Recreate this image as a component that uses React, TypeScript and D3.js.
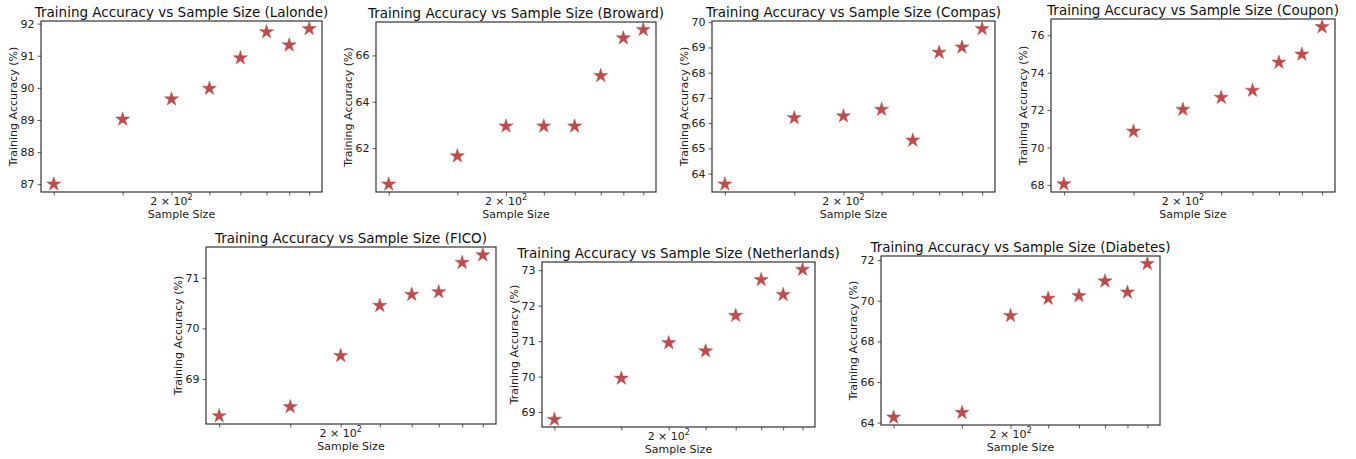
import React, { useRef, useEffect } from "react";
import * as d3 from "d3";

// sample sizes on the (log) x axis
const SAMPLE_SIZES = [100, 150, 200, 250, 300, 350, 400, 450];

const DATASETS = ["Lalonde", "Broward", "Compas", "Coupon", "FICO", "Netherlands", "Diabetes"];

// training accuracy (%)
const LALONDE = [87.0, 89.02, 89.65, 89.98, 90.93, 91.74, 91.33, 91.84];
const BROWARD = [60.43, 61.65, 62.94, 62.94, 62.94, 65.12, 66.75, 67.11];
const COMPAS = [63.58, 66.21, 66.28, 66.54, 65.32, 68.8, 69.01, 69.74];
const COUPON = [68.04, 70.86, 72.03, 72.67, 73.05, 74.55, 74.98, 76.45];
const FICO = [68.27, 68.45, 69.46, 70.45, 70.67, 70.72, 71.3, 71.45];
const NETHERLANDS = [68.79, 69.95, 70.95, 70.72, 71.72, 72.73, 72.31, 73.02];
const DIABETES = [64.26, 64.49, 69.26, 70.11, 70.24, 70.96, 70.41, 71.82];

const Y_TICKS = [
  [87, 88, 89, 90, 91, 92],
  [62, 64, 66],
  [64, 65, 66, 67, 68, 69, 70],
  [68, 70, 72, 74, 76],
  [69, 70, 71],
  [69, 70, 71, 72, 73],
  [64, 66, 68, 70, 72],
];

const X_LABELED_TICK = 200;

// axes frames (layout)
const FRAMES = [
  { x: 41, y: 21, w: 281, h: 171 },
  { x: 376, y: 22, w: 280, h: 170 },
  { x: 712, y: 21, w: 283, h: 171 },
  { x: 1051, y: 19, w: 284, h: 173 },
  { x: 206, y: 247, w: 290, h: 177 },
  { x: 542, y: 262, w: 273, h: 165 },
  { x: 881, y: 256, w: 279, h: 169 },
];

const WIDTH = 1356;
const HEIGHT = 459;
const FONT = "DejaVu Sans, sans-serif";
const STAR = "#bd4c4f";
const SPINE = "#333";

export default function App() {
  const svgRef = useRef<SVGSVGElement>(null);

  useEffect(() => {
    document.body.style.margin = "0";
    if (!svgRef.current) return;
    const svg = d3.select(svgRef.current);
    svg.selectAll("*").remove();

    const allSeries = [LALONDE, BROWARD, COMPAS, COUPON, FICO, NETHERLANDS, DIABETES];

    allSeries.forEach((values, i) => {
      const f = FRAMES[i];
      const g = svg.append("g").attr("transform", `translate(${f.x},${f.y})`);

      // matplotlib-like 5% margins
      const lx0 = Math.log10(d3.min(SAMPLE_SIZES)!);
      const lx1 = Math.log10(d3.max(SAMPLE_SIZES)!);
      const mx = (lx1 - lx0) * 0.05;
      const xScale = d3
        .scaleLog()
        .domain([Math.pow(10, lx0 - mx), Math.pow(10, lx1 + mx)])
        .range([0, f.w]);

      const [y0, y1] = d3.extent(values) as [number, number];
      const my = (y1 - y0) * 0.05;
      const yScale = d3.scaleLinear().domain([y0 - my, y1 + my]).range([f.h, 0]);

      // x ticks
      const xAxis = d3
        .axisBottom(xScale)
        .tickValues(SAMPLE_SIZES)
        .tickSize(3.5)
        .tickFormat(() => "");
      const xg = g.append("g").attr("transform", `translate(0,${f.h})`).call(xAxis);
      xg.select(".domain").remove();
      xg.selectAll("line").attr("stroke", SPINE).attr("stroke-width", 0.8);

      const lbl = g
        .append("text")
        .attr("x", xScale(X_LABELED_TICK))
        .attr("y", f.h + 12.5)
        .attr("text-anchor", "middle")
        .style("font-family", FONT)
        .style("font-size", "11px")
        .style("fill", "#222");
      lbl.append("tspan").text("2 × 10");
      lbl.append("tspan").attr("dy", -4.5).style("font-size", "8px").text("2");

      // y ticks
      const yAxis = d3
        .axisLeft(yScale)
        .tickValues(Y_TICKS[i])
        .tickSize(3.5)
        .tickPadding(3)
        .tickFormat(d3.format("d"));
      const yg = g.append("g").call(yAxis);
      yg.select(".domain").remove();
      yg.selectAll("line").attr("stroke", SPINE).attr("stroke-width", 0.8);
      yg.selectAll("text")
        .style("font-family", FONT)
        .style("font-size", "11px")
        .style("fill", "#222");

      // frame
      g.append("rect")
        .attr("x", 0)
        .attr("y", 0)
        .attr("width", f.w)
        .attr("height", f.h)
        .attr("fill", "none")
        .attr("stroke", SPINE)
        .attr("stroke-width", 1.2);

      // stars
      const star = d3.symbol().type(d3.symbolStar).size(62);
      g.selectAll("path.pt")
        .data(values)
        .join("path")
        .attr("class", "pt")
        .attr("d", star)
        .attr("transform", (d, j) => `translate(${xScale(SAMPLE_SIZES[j])},${yScale(d)})`)
        .attr("fill", STAR)
        .attr("stroke", STAR)
        .attr("stroke-width", 0.5);

      // title
      g.append("text")
        .attr("x", f.w / 2)
        .attr("y", -4.5)
        .attr("text-anchor", "middle")
        .style("font-family", FONT)
        .style("font-size", "13.5px")
        .style("fill", "#111")
        .text(`Training Accuracy vs Sample Size (${DATASETS[i]})`);

      // axis labels
      g.append("text")
        .attr("x", f.w / 2)
        .attr("y", f.h + 26)
        .attr("text-anchor", "middle")
        .style("font-family", FONT)
        .style("font-size", "11px")
        .style("fill", "#222")
        .text("Sample Size");

      g.append("text")
        .attr("transform", "rotate(-90)")
        .attr("x", -f.h / 2)
        .attr("y", -24)
        .attr("text-anchor", "middle")
        .style("font-family", FONT)
        .style("font-size", "11px")
        .style("fill", "#222")
        .text("Training Accuracy (%)");
    });
  }, []);

  return <svg ref={svgRef} width={WIDTH} height={HEIGHT} style={{ display: "block", background: "#fff" }} />;
}
